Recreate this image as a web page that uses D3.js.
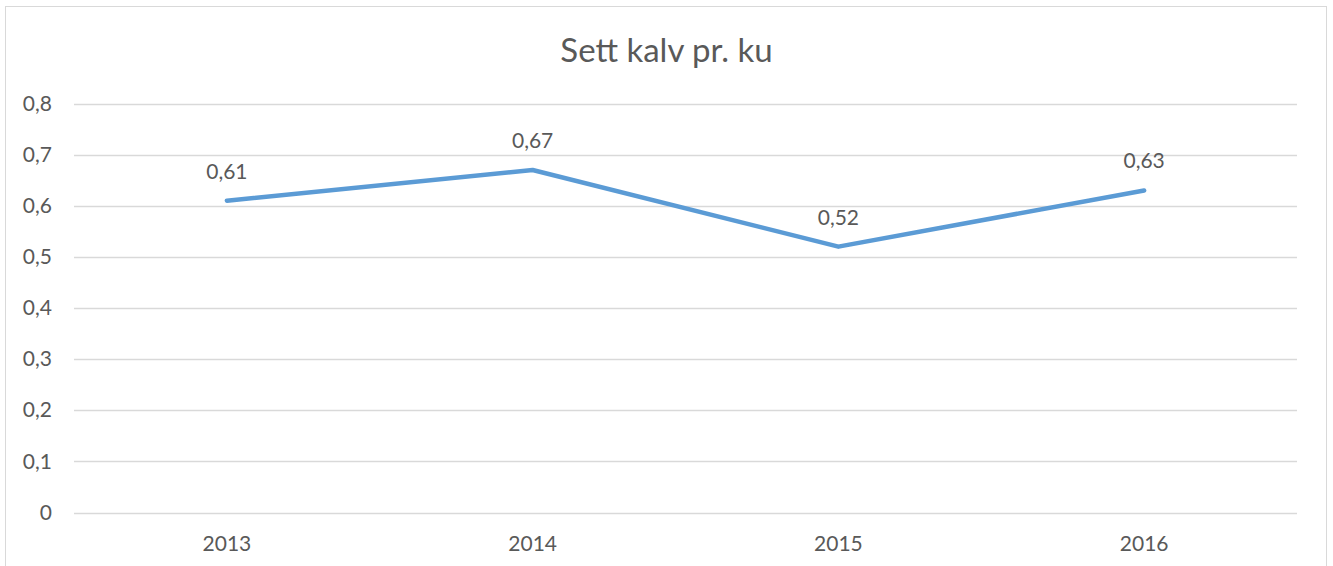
<!DOCTYPE html>
<html>
<head>
<meta charset="utf-8">
<script src="https://cdn.jsdelivr.net/npm/d3@7"></script>
<style>
  body { margin: 0; background: #fff; }
  text { font-family: Lato, "Open Sans", sans-serif; fill: #595959; }
</style>
</head>
<body>
<div id="chart"></div>
<script>
var width  = 1333;
var height = 566;

// Data
var years  = ["2013", "2014", "2015", "2016"];
var values = [0.61, 0.67, 0.52, 0.63];
var yTicks = [0, 0.1, 0.2, 0.3, 0.4, 0.5, 0.6, 0.7, 0.8];

// Plot area
var m = { left: 74, right: 1297, top: 103.5, bottom: 512.5 };

var svg = d3.select('#chart')
            .append('svg')
            .attr('width', width)
            .attr('height', height);

// chart border
svg.append('rect')
   .attr('x', 5.5)
   .attr('y', 6.5)
   .attr('width', 1321)
   .attr('height', 580)
   .style('fill', '#fff')
   .style('stroke', '#d9d9d9');

var x = d3.scaleBand()
          .domain(years)
          .range([m.left, m.right]);

var y = d3.scaleLinear()
          .domain([0, 0.8])
          .range([m.bottom, m.top]);

var fmt = function(v) { return d3.format('.1f')(v).replace('.', ','); };
var fmtVal = function(v) { return String(v).replace('.', ','); };

// gridlines
svg.append('g')
   .selectAll('line')
   .data(yTicks)
   .enter()
   .append('line')
   .attr('x1', m.left)
   .attr('x2', m.right)
   .attr('y1', function(d) { return Math.round(y(d)) + 0.5; })
   .attr('y2', function(d) { return Math.round(y(d)) + 0.5; })
   .style('stroke', '#d9d9d9')
   .style('stroke-width', 1.5);

// y axis labels
var yAxis = d3.axisLeft(y)
              .tickValues(yTicks)
              .tickSize(0)
              .tickPadding(0)
              .tickFormat(function(d) { return d === 0 ? '0' : fmt(d); });

svg.append('g')
   .attr('transform', 'translate(' + 52 + ',0)')
   .call(yAxis)
   .call(function(g) { g.select('.domain').remove(); })
   .selectAll('text')
   .style('font-size', '21px')
   .style('font-family', 'Lato, "Open Sans", sans-serif')
   .style('fill', '#595959');

// x axis labels
var xAxis = d3.axisBottom(x).tickSize(0).tickPadding(0);

svg.append('g')
   .attr('transform', 'translate(0,' + (m.bottom + 24) + ')')
   .call(xAxis)
   .call(function(g) { g.select('.domain').remove(); })
   .selectAll('text')
   .style('font-size', '21px')
   .style('font-family', 'Lato, "Open Sans", sans-serif')
   .style('fill', '#595959');

// line
var line = d3.line()
             .x(function(d, i) { return x(years[i]) + x.bandwidth() / 2; })
             .y(function(d) { return y(d); });

svg.append('path')
   .datum(values)
   .attr('d', line)
   .style('fill', 'none')
   .style('stroke', '#5b9bd5')
   .style('stroke-width', 4.5)
   .style('stroke-linecap', 'round')
   .style('stroke-linejoin', 'round');

// data labels
svg.append('g')
   .selectAll('text')
   .data(values)
   .enter()
   .append('text')
   .attr('x', function(d, i) { return x(years[i]) + x.bandwidth() / 2; })
   .attr('y', function(d) { return y(d) - 22; })
   .attr('text-anchor', 'middle')
   .style('font-size', '21px')
   .text(fmtVal);

// title
svg.append('text')
   .attr('x', width / 2)
   .attr('y', 62)
   .attr('text-anchor', 'middle')
   .style('font-size', '33px')
   .text('Sett kalv pr. ku');
</script>
</body>
</html>
